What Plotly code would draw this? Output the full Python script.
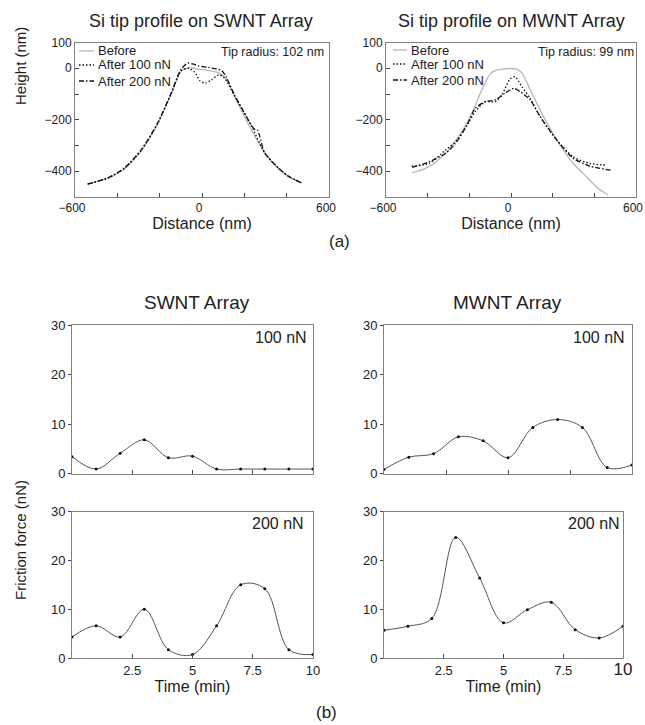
import plotly.graph_objects as go

W, H = 645, 725
FONT = "Liberation Sans, Arial, sans-serif"

# ---------------- data: tip profiles (a) ----------------
swnt_before_x = [-540, -450, -365, -285, -210, -145, -100, -60, -20, 30, 80, 112, 155, 195, 235, 300, 360, 410, 472]
swnt_before_y = [-450, -428, -390, -320, -216, -100, -12, 2, -3, -9, -18, -40, -112, -178, -242, -332, -390, -421, -446]
swnt_a100_x = [-540, -443, -365, -286, -208, -145, -98, -62, -35, -10, 15, 45, 78, 100, 120, 156, 195, 235, 297, 362, 409, 472]
swnt_a100_y = [-450, -426, -388, -317, -213, -97, -10, 0, -15, -48, -58, -45, -26, -32, -55, -110, -168, -226, -330, -388, -420, -446]
swnt_a200_x = [-540, -443, -365, -286, -208, -145, -100, -67, -40, -16, 30, 93, 115, 156, 195, 235, 250, 262, 272, 297, 362, 409, 472]
swnt_a200_y = [-450, -425, -386, -315, -210, -95, -5, 20, 16, 9, 3, -9, -35, -108, -165, -224, -238, -240, -262, -330, -388, -420, -446]

mwnt_before_x = [-474, -410, -331, -252, -188, -140, -100, -76, -40, -13, 29, 53, 100, 156, 220, 299, 363, 419, 467]
mwnt_before_y = [-406, -389, -344, -266, -175, -84, -22, -9, -3, -1, -4, -19, -97, -188, -279, -370, -422, -467, -493]
mwnt_a100_x = [-477, -395, -315, -259, -211, -172, -124, -76, -44, -5, 20, 53, 92, 140, 220, 299, 379, 458]
mwnt_a100_y = [-380, -370, -318, -279, -221, -169, -130, -130, -104, -42, -33, -72, -117, -188, -279, -344, -370, -376]
mwnt_a200_x = [-474, -395, -315, -267, -211, -172, -124, -76, -29, 13, 44, 92, 140, 220, 299, 379, 482]
mwnt_a200_y = [-385, -364, -331, -292, -221, -156, -130, -123, -97, -78, -91, -123, -188, -279, -350, -380, -396]

# ---------------- data: friction force (b) ----------------
time_min = [0, 1, 2, 3, 4, 5, 6, 7, 8, 9, 10]
swnt_100nN = [3.4, 0.9, 4.1, 6.8, 3.2, 3.5, 0.9, 0.9, 0.9, 0.9, 0.9]
swnt_200nN = [4.3, 6.6, 4.3, 10.0, 1.7, 0.7, 6.6, 15.0, 14.2, 1.7, 0.7]
mwnt_100nN = [0.8, 3.3, 4.0, 7.4, 6.6, 3.2, 9.3, 10.9, 9.3, 1.2, 1.7]
mwnt_200nN = [5.7, 6.5, 8.1, 24.7, 16.4, 7.2, 9.9, 11.4, 5.8, 4.1, 6.5]

profile_ticks_x = [-600, 0, 600]
profile_minor_x = [-400, -200, 200, 400]
profile_ticks_y = [100, 0, -200, -400]
profile_minor_y = [-100, -300]
time_ticks = [2.5, 5, 7.5, 10]
time_ticktext = ["2.5", "5", "7.5", "10"]
force_ticks = [0, 10, 20, 30]
legend_names = ["Before", "After 100 nN", "After 200 nN"]


def fx(p):
    return p / W


def fy(p):
    return 1 - p / H


fig = go.Figure()

prof_styles = [dict(color="#b8b8b8", width=1.3, dash="solid"),
               dict(color="#111", width=1.3, dash="1.5px,2px"),
               dict(color="#111", width=1.3, dash="5px,2px,1.5px,2px")]

for (xs, ys), st in zip([(swnt_before_x, swnt_before_y), (swnt_a100_x, swnt_a100_y), (swnt_a200_x, swnt_a200_y)], prof_styles):
    fig.add_trace(go.Scatter(x=xs, y=ys, mode="lines", line=dict(shape="spline", smoothing=0.7, **st),
                             xaxis="x", yaxis="y", showlegend=False))
for (xs, ys), st in zip([(mwnt_before_x, mwnt_before_y), (mwnt_a100_x, mwnt_a100_y), (mwnt_a200_x, mwnt_a200_y)], prof_styles):
    fig.add_trace(go.Scatter(x=xs, y=ys, mode="lines", line=dict(shape="spline", smoothing=0.7, **st),
                             xaxis="x2", yaxis="y2", showlegend=False))

for ys, ax in [(swnt_100nN, "3"), (mwnt_100nN, "4"), (swnt_200nN, "5"), (mwnt_200nN, "6")]:
    fig.add_trace(go.Scatter(x=time_min, y=ys, mode="lines+markers",
                             line=dict(shape="spline", smoothing=1, color="#555", width=1),
                             marker=dict(size=3, color="#111"),
                             xaxis="x" + ax, yaxis="y" + ax, showlegend=False))

AXC = "#808080"
common = dict(showline=True, mirror=True, linecolor=AXC, linewidth=1, showgrid=False, zeroline=False,
              automargin=False,
              tickfont=dict(family=FONT, size=12, color="#222"), tickcolor="#444", tickwidth=1)

def prof_x(domain, anchor):
    return dict(common, domain=domain, anchor=anchor, range=[-600, 600], tickmode="array",
                tickvals=profile_ticks_x, ticks="inside", ticklen=4, ticklabelshift=-3,
                minor=dict(tickmode="array", tickvals=profile_minor_x, ticks="inside", ticklen=4, tickcolor="#444"),
                title=dict(text="Distance (nm)", font=dict(family=FONT, size=16, color="#222"), standoff=2))

def prof_y(domain, anchor):
    return dict(common, domain=domain, anchor=anchor, range=[-500, 100], tickmode="array",
                tickvals=profile_ticks_y, ticks="inside", ticklen=4,
                minor=dict(tickmode="array", tickvals=profile_minor_y, ticks="inside", ticklen=4, tickcolor="#444"))

def time_x(domain, anchor, labels=True, ticktext=None):
    return dict(common, domain=domain, anchor=anchor, range=[0, 10], tickmode="array",
                tickvals=time_ticks, ticktext=ticktext or time_ticktext, ticks="inside", ticklen=4,
                showticklabels=labels, tickfont=dict(family=FONT, size=13, color="#222"),
                title=dict(text="Time (min)" if labels else "", font=dict(family=FONT, size=16, color="#222"), standoff=2))

def force_y(domain, anchor):
    return dict(common, domain=domain, anchor=anchor, range=[0, 30], tickmode="array",
                tickvals=force_ticks, ticks="outside", ticklen=3,
                tickfont=dict(family=FONT, size=13, color="#222"))

top_y = [fy(197), fy(42.5)]
bu_y = [fy(473.5), fy(325)]
bl_y = [fy(658), fy(511.5)]

big10 = ["2.5", "5", "7.5", "<span style='font-size:17px'>10</span>"]

fig.update_layout(
    width=W, height=H, margin=dict(l=0, r=0, t=0, b=0, pad=0, autoexpand=False),
    paper_bgcolor="white", plot_bgcolor="white",
    font=dict(family=FONT, color="#222"),
    showlegend=False,
    xaxis=prof_x([fx(75), fx(329)], "y"),
    yaxis=prof_y(top_y, "x"),
    xaxis2=prof_x([fx(386), fx(636)], "y2"),
    yaxis2=prof_y(top_y, "x2"),
    xaxis3=time_x([fx(72), fx(313)], "y3", labels=False),
    yaxis3=force_y(bu_y, "x3"),
    xaxis4=time_x([fx(384), fx(632)], "y4", labels=False),
    yaxis4=force_y(bu_y, "x4"),
    xaxis5=time_x([fx(72), fx(313)], "y5"),
    yaxis5=force_y(bl_y, "x5"),
    xaxis6=time_x([fx(384), fx(623)], "y6", ticktext=big10),
    yaxis6=force_y(bl_y, "x6"),
)

anns = []
def ann(text, x, y, size, xanchor="center", yanchor="middle", angle=0):
    anns.append(dict(text=text, x=fx(x), y=fy(y), xref="paper", yref="paper", showarrow=False,
                     xanchor=xanchor, yanchor=yanchor, textangle=angle,
                     font=dict(family=FONT, size=size, color="#222")))

ann("Si tip profile on SWNT Array", 201, 21, 18)
ann("Si tip profile on MWNT Array", 511, 21, 18)
ann("Height (nm)", 20, 66, 15, angle=-90)
ann("Tip radius: 102 nm", 326, 52, 12.5, xanchor="right")
ann("Tip radius: 99 nm", 636, 52, 12.5, xanchor="right")
ann("(a)", 339, 241, 17)
ann("SWNT Array", 197, 302, 19)
ann("MWNT Array", 507, 302, 19)
ann("Friction force (nN)", 20, 540, 15, angle=-90)
ann("100 nN", 309, 338, 16, xanchor="right")
ann("100 nN", 627, 338, 16, xanchor="right")
ann("200 nN", 306, 523, 16, xanchor="right")
ann("200 nN", 622, 523, 16, xanchor="right")
ann("(b)", 326, 712, 17)

# hand-drawn legends (short line samples as in the original)
shapes = []
for (lx0, lx1, tx, rows) in [(79, 94, 96, [51, 65, 81]), (393, 407, 409, [50, 64, 80])]:
    for name, st, ry in zip(legend_names, prof_styles, rows):
        shapes.append(dict(type="line", xref="paper", yref="paper", x0=fx(lx0), x1=fx(lx1), y0=fy(ry), y1=fy(ry),
                           line=dict(color=st["color"], width=st["width"], dash=st["dash"])))
        ann(name, tx, ry, 13, xanchor="left")

fig.update_layout(annotations=anns, shapes=shapes)
fig.write_html("out.html", config={"displayModeBar": False},
               post_script="document.body.style.margin='0';document.body.style.overflow='hidden';")
